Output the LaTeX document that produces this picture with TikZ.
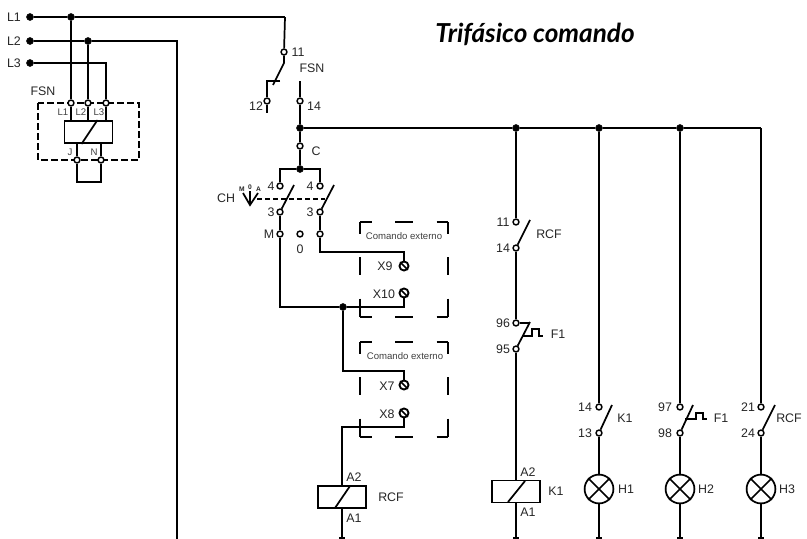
\documentclass[tikz,border=0pt]{standalone}
\usepackage{fontspec}
\setmainfont{Liberation Sans}
\newfontfamily\titlefont{Lato}
\usetikzlibrary{calc}
\tikzset{
	wire/.style={line width=1.3pt},
	term/.style={circle, draw, line width=1.1pt, fill=white, inner sep=0pt, minimum size=4.4pt},
	junc/.style={circle, draw, fill=black, inner sep=0pt, minimum size=5.2pt},
	screw/.style={circle, draw, line width=1.4pt, inner sep=0pt, minimum size=6.8pt},
	lamp/.style={circle, draw, line width=1.3pt, inner sep=0pt, minimum size=21.6pt},
	coil/.style={draw, line width=1.4pt, inner sep=0pt, minimum width=36pt, minimum height=16.5pt},
	lbl/.style={inner sep=0pt, font=\fontsize{9.3}{9.3}\selectfont, text=black!85},
	tiny/.style={inner sep=0pt, font=\fontsize{7.2}{7.2}\selectfont, text=black!75},
	mini/.style={inner sep=0pt, font=\fontsize{5}{5}\selectfont\bfseries, text=black!85},
	boxdash/.style={line width=1.3pt, dash pattern=on 13.5pt off 17.5pt, dash phase=4.5pt},
	fsndash/.style={line width=1.3pt, dash pattern=on 5pt off 2.5pt},
}
\begin{document}
\begin{tikzpicture}[x=0.75pt, y=-0.75pt]
	\useasboundingbox (0,0) rectangle (807,539);
	% title
	\node [inner sep=0pt, font=\titlefont\fontsize{19.6}{19.6}\selectfont\bfseries\itshape] (title) at (535,34) {Trifásico comando};
	% supply
	\node [junc] (inL1) at (30,17) {};
	\node [junc] (inL2) at (30,41) {};
	\node [junc] (inL3) at (30,63) {};
	\node [junc] (jL1) at (71,17) {};
	\node [junc] (jL2) at (88,41) {};
	\node [lbl] (lL1) at (14,17) {L1};
	\node [lbl] (lL2) at (14,41) {L2};
	\node [lbl] (lL3) at (14,63) {L3};
	\coordinate (cL1) at (285,17);
	\coordinate (cL2) at (177,41);
	\coordinate (eL2) at (177,539);
	\coordinate (cL3) at (106,63);
	% FSN relay
	\draw [fsndash] (38,103) rectangle (139,160);
	\node [term] (fL1) at (71,103) {};
	\node [term] (fL2) at (88,103) {};
	\node [term] (fL3) at (106,103) {};
	\node [term] (fJ) at (77,160) {};
	\node [term] (fN) at (101,160) {};
	\node [coil] (fsn) at (88.5,132) {};
	\draw [wire] (fsn.south) ++(-7,0) -- ($(fsn.north)+(9,0)$);
	\draw [wire] (inL1) -- (jL1);
	\draw [wire] (jL1) -- (cL1);
	\draw [wire] (inL2) -- (jL2);
	\draw [wire] (jL2) -- (cL2) -- (eL2);
	\draw [wire] (inL3) -- (cL3) -- (fL3);
	\draw [wire] (jL1) -- (fL1);
	\draw [wire] (jL2) -- (fL2);
	\draw [wire] (fL1) -- (71,121);
	\draw [wire] (fL2) -- (88,121);
	\draw [wire] (fL3) -- (106,121);
	\draw [wire] (77,143) -- (fJ);
	\draw [wire] (101,143) -- (fN);
	\draw [wire] (fJ) -- (77,182) -- (101,182) -- (fN);
	\node [lbl] (lFSN) at (43,91) {FSN};
	\node [tiny] (lf1) at (63,112) {L1};
	\node [tiny] (lf2) at (81,112) {L2};
	\node [tiny] (lf3) at (99,112) {L3};
	\node [tiny] (lfJ) at (70,152) {J};
	\node [tiny] (lfN) at (94,152) {N};
	% FSN contact
	\node [term] (t11) at (284,52) {};
	\node [term] (t12) at (267,101) {};
	\node [term] (t14) at (300,101) {};
	\node [junc] (j14) at (300,128) {};
	\node [term] (tC) at (300,146) {};
	\node [junc] (jC) at (300,169) {};
	\draw [wire] (cL1) -- (t11);
	\draw [wire] (t11) -- (284,63) -- (273,85);
	\draw [wire] (280,81) -- (267,81) -- (t12);
	\draw [wire] (t12) -- (267,113);
	\draw [wire] (300,81) -- (t14);
	\draw [wire] (t14) -- (j14);
	\draw [wire] (j14) -- (tC);
	\draw [wire] (tC) -- (jC);
	\node [lbl] (l11) at (298,52) {11};
	\node [lbl] (l12) at (256,106) {12};
	\node [lbl] (lFSNb) at (312,68) {FSN};
	\node [lbl] (l14) at (314,106) {14};
	\node [lbl] (lC) at (316,151) {C};
	% selector CH
	\node [term] (t4a) at (280,186) {};
	\node [term] (t4b) at (320,186) {};
	\node [term] (t3a) at (280,212) {};
	\node [term] (t3b) at (320,212) {};
	\node [term] (tM) at (280,234) {};
	\node [term] (t0) at (300,234) {};
	\node [term] (tR) at (320,234) {};
	\draw [wire] (jC) -- (280,169) -- (t4a);
	\draw [wire] (jC) -- (320,169) -- (t4b);
	\draw [wire] (t3a) -- (294,185);
	\draw [wire] (t3b) -- (334,185);
	\draw [wire] (t3a) -- (tM);
	\draw [wire] (t3b) -- (tR);
	\draw [line width=1pt, dash pattern=on 4pt off 2pt] (257,199) -- (325,199);
	\draw [wire] (243,193) -- (250,205) -- (258,193);
	\draw [wire] (250,205) -- (250,191);
	\node [mini] (lmM) at (242,189) {M};
	\node [mini] (lm0) at (250,187) {0};
	\node [mini] (lmA) at (258.5,189) {A};
	\node [lbl] (lCH) at (226,198) {CH};
	\node [lbl] (l4a) at (271,186) {4};
	\node [lbl] (l4b) at (310,186) {4};
	\node [lbl] (l3a) at (271,212) {3};
	\node [lbl] (l3b) at (310,212) {3};
	\node [lbl] (lM) at (269,234) {M};
	\node [lbl] (l0) at (300,249) {0};
	% external command
	\foreach \oy in {222,342} {
		\draw [boxdash] (360,\oy) -- (448,\oy);
		\draw [boxdash] (360,\oy+95) -- (448,\oy+95);
		\draw [boxdash] (360,\oy) -- (360,\oy+95);
		\draw [boxdash] (448,\oy) -- (448,\oy+95);
	}
	\node [tiny] (lext1) at (404,236) {Comando externo};
	\node [tiny] (lext2) at (405,356) {Comando externo};
	\node [screw] (x9) at (404,266) {};
	\node [screw] (x10) at (404,293) {};
	\node [screw] (x7) at (404,385) {};
	\node [screw] (x8) at (404,413) {};
	\foreach \s in {x9,x10,x7,x8}
		\draw [wire] (\s.north west) -- (\s.south east);
	\node [junc] (jX) at (343,307) {};
	\draw [wire] (tR) |- (404,252) -- (x9);
	\draw [wire] (tM) |- (jX);
	\draw [wire] (jX) -- (404,307) -- (x10);
	\draw [wire] (jX) |- (404,371) -- (x7);
	\node [coil] (kRCF) at (342,497) {};
	\draw [wire] (x8) -- (404,427) -| (kRCF);
	\draw [wire] (335,508) -- (350,486);
	\coordinate (eRCF) at (342,538);
	\draw [wire] (kRCF) -- (eRCF);
	\draw [wire] ($(eRCF)+(-3,0)$) -- ($(eRCF)+(3,0)$);
	\node [lbl] (lX9) at (385,266) {X9};
	\node [lbl] (lX10) at (384,294) {X10};
	\node [lbl] (lX7) at (387,386) {X7};
	\node [lbl] (lX8) at (387,414) {X8};
	\node [lbl] (lA2a) at (354,477) {A2};
	\node [lbl] (lA1a) at (354,518) {A1};
	\node [lbl] (lRCFa) at (391,497) {RCF};
	% K1 branch
	\node [junc] (ja) at (516,128) {};
	\node [junc] (jb) at (599,128) {};
	\node [junc] (jc) at (680,128) {};
	\coordinate (cR) at (761,128);
	\draw [wire] (j14) -- (ja);
	\draw [wire] (ja) -- (jb);
	\draw [wire] (jb) -- (jc);
	\draw [wire] (jc) -- (cR);
	\node [term] (a11) at (516,222) {};
	\node [term] (a14) at (516,248) {};
	\node [term] (a96) at (516,323) {};
	\node [term] (a95) at (516,349) {};
	\node [coil] (kK1) at (516,491.5) {};
	\coordinate (eK1) at (516,538);
	\draw [wire] (ja) -- (a11);
	\draw [wire] (a14) -- (530,220);
	\draw [wire] (a14) -- (a96);
	\draw [wire] (a96) -- (530,323);
	\draw [wire] (a95) -- (530,322);
	\draw [wire] (523,336) -- (532,336) -- (532,329) -- (539,329) -- (539,336) -- (543,336);
	\draw [wire] (a95) -- (kK1);
	\draw [wire] (508,502) -- (525,481);
	\draw [wire] (kK1) -- (eK1);
	\draw [wire] ($(eK1)+(-3,0)$) -- ($(eK1)+(3,0)$);
	\node [lbl] (la11) at (503,222) {11};
	\node [lbl] (la14) at (503,248) {14};
	\node [lbl] (laRCF) at (549,234) {RCF};
	\node [lbl] (la96) at (503,323) {96};
	\node [lbl] (la95) at (503,349) {95};
	\node [lbl] (laF1) at (558,334) {F1};
	\node [lbl] (lA2b) at (528,472) {A2};
	\node [lbl] (lA1b) at (528,512) {A1};
	\node [lbl] (lK1b) at (556,491) {K1};
	% H1
	\node [term] (b14) at (599,407) {};
	\node [term] (b13) at (599,433) {};
	\node [lamp] (h1) at (599,489) {};
	\coordinate (eH1) at (599,538);
	\draw [wire] (jb) -- (b14);
	\draw [wire] (b13) -- (612,405);
	\draw [wire] (b13) -- (h1);
	\draw [wire] (h1.north west) -- (h1.south east);
	\draw [wire] (h1.north east) -- (h1.south west);
	\draw [wire] (h1) -- (eH1);
	\draw [wire] ($(eH1)+(-3,0)$) -- ($(eH1)+(3,0)$);
	\node [lbl] (lb14) at (585,407) {14};
	\node [lbl] (lb13) at (585,433) {13};
	\node [lbl] (lbK1) at (625,418) {K1};
	\node [lbl] (lH1) at (626,489) {H1};
	% H2
	\node [term] (c97) at (680,407) {};
	\node [term] (c98) at (680,433) {};
	\node [lamp] (h2) at (680,489) {};
	\coordinate (eH2) at (680,538);
	\draw [wire] (jc) -- (c97);
	\draw [wire] (c98) -- (693,405);
	\draw [wire] (685,419) -- (696,419) -- (696,413) -- (703,413) -- (703,419) -- (707,419);
	\draw [wire] (c98) -- (h2);
	\draw [wire] (h2.north west) -- (h2.south east);
	\draw [wire] (h2.north east) -- (h2.south west);
	\draw [wire] (h2) -- (eH2);
	\draw [wire] ($(eH2)+(-3,0)$) -- ($(eH2)+(3,0)$);
	\node [lbl] (lc97) at (665,407) {97};
	\node [lbl] (lc98) at (665,433) {98};
	\node [lbl] (lcF1) at (721,418) {F1};
	\node [lbl] (lH2) at (706,489) {H2};
	% H3
	\node [term] (d21) at (761,407) {};
	\node [term] (d24) at (761,433) {};
	\node [lamp] (h3) at (761,489) {};
	\coordinate (eH3) at (761,538);
	\draw [wire] (cR) -- (d21);
	\draw [wire] (d24) -- (775,405);
	\draw [wire] (d24) -- (h3);
	\draw [wire] (h3.north west) -- (h3.south east);
	\draw [wire] (h3.north east) -- (h3.south west);
	\draw [wire] (h3) -- (eH3);
	\draw [wire] ($(eH3)+(-3,0)$) -- ($(eH3)+(3,0)$);
	\node [lbl] (ld21) at (748,407) {21};
	\node [lbl] (ld24) at (748,433) {24};
	\node [lbl] (ldRCF) at (789,418) {RCF};
	\node [lbl] (lH3) at (787,489) {H3};
\end{tikzpicture}
\end{document}
